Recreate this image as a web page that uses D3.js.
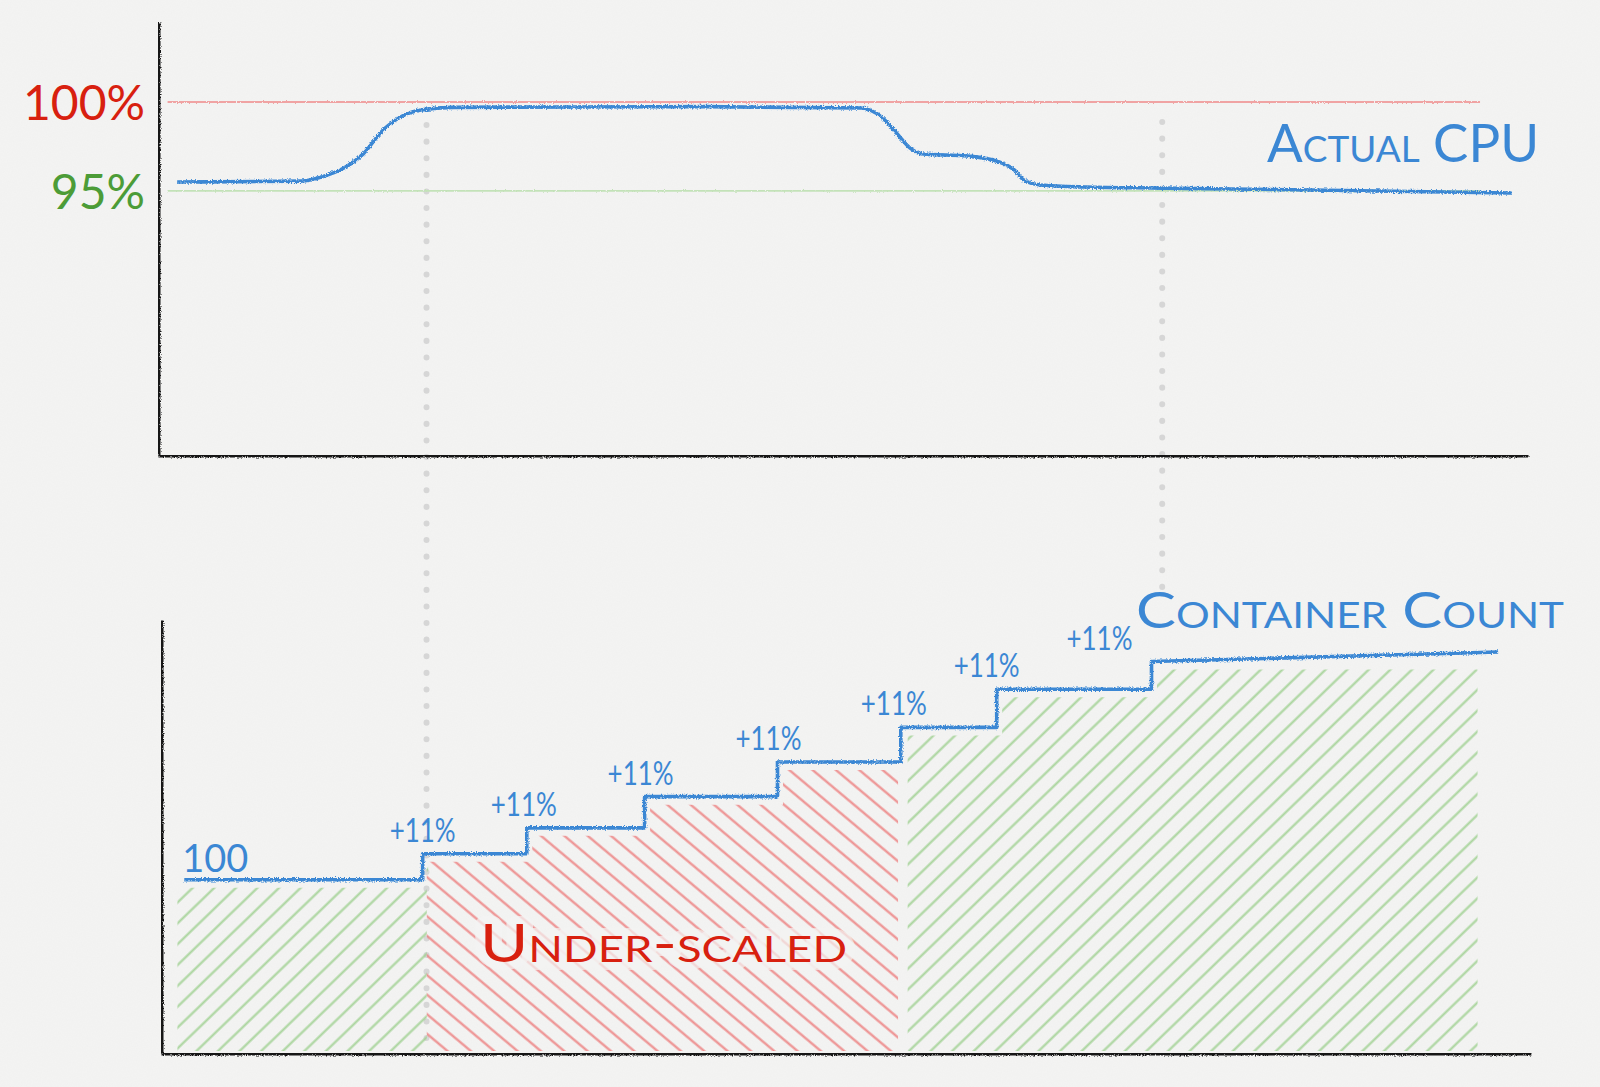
<!DOCTYPE html>
<html>
<head>
<meta charset="utf-8">
<script src="https://cdn.jsdelivr.net/npm/d3@7"></script>
<style>
  html, body { margin: 0; padding: 0; background: #f4f4f3; }
  svg { display: block; }
  text { font-family: Lato, "Open Sans", sans-serif; }
</style>
</head>
<body>
<svg id="chart" width="1600" height="1087"></svg>
<script>
// ---------------- DATA ----------------
// Top chart: actual CPU utilisation (%) over time (time in arbitrary units 0..100)
const cpuTime = [1.4, 10.5, 12.0, 13.6, 15.0, 16.4, 17.8, 19.2, 21.5, 30, 40, 51.3, 52.8, 53.9, 54.9, 55.8, 59.1, 61.4, 62.5, 63.2, 64.4, 67.7, 73.3, 84.1, 98.8];
const cpuPct  = [95.5, 95.55, 95.8, 96.3, 97.1, 98.4, 99.2, 99.55, 99.7, 99.72, 99.74, 99.66, 99.16, 98.26, 97.41, 97.08, 96.96, 96.63, 96.18, 95.61, 95.33, 95.22, 95.16, 95.05, 94.88];
const cpuTicks = [95, 100];
const thresholdRange = [0.7, 96.5];          // extent of the 100% / 95% guide lines

// Bottom chart: container count (step function)
const stepTimes  = [1.7, 19.1, 26.7, 35.3, 45.0, 54.0, 61.0, 72.3];
const stepCounts = [100, 115, 130, 148, 168, 188, 210, 226];
const stepEnd    = { time: 97.6, count: 231.5 };
const stepLabels = ["+11%", "+11%", "+11%", "+11%", "+11%", "+11%", "+11%"];
const startLabel = "100";

// Shaded zones under the step line
const zoneFrom = [1.2, 19.4, 54.5];
const zoneTo   = [19.4, 53.8, 96.1];
const zoneKind = ["ok", "under", "ok"];

// Vertical dotted markers (time)
const markerTimes = [19.6, 73.3];

// Titles
const titleTop = "Actual CPU";
const titleBottom = "Container Count";
const underLabel = "Under-scaled";

// ---------------- LAYOUT ----------------
const svg = d3.select("#chart");
const W = 1600, H = 1087;
const blue = "#3b87d4", red = "#d8200f", green = "#4c9c37";

const xTop = d3.scaleLinear().domain([0, 100]).range([158, 1528]);
const yTop = d3.scaleLinear().domain([80.15, 104.5]).range([455, 22]);
const xBot = d3.scaleLinear().domain([0, 100]).range([161, 1531]);
const yBot = d3.scaleLinear().domain([0, 250]).range([1053, 620]);

// ---------------- DEFS ----------------
const defs = svg.append("defs");
function roughFilter(id, freq, scale, seed) {
  const f = defs.append("filter").attr("id", id)
    .attr("filterUnits", "userSpaceOnUse")
    .attr("x", 0).attr("y", 0).attr("width", W).attr("height", H);
  f.append("feTurbulence").attr("type", "fractalNoise").attr("baseFrequency", freq)
    .attr("numOctaves", 2).attr("seed", seed).attr("result", "noise");
  f.append("feDisplacementMap").attr("in", "SourceGraphic").attr("in2", "noise")
    .attr("scale", scale).attr("xChannelSelector", "R").attr("yChannelSelector", "G");
}
roughFilter("rough", 0.8, 4, 3);
roughFilter("roughThin", 0.9, 2.5, 5);
roughFilter("roughAxis", 0.9, 3.5, 7);

const paper = defs.append("filter").attr("id", "paper")
  .attr("filterUnits", "userSpaceOnUse").attr("x", 0).attr("y", 0).attr("width", W).attr("height", H);
paper.append("feTurbulence").attr("type", "fractalNoise").attr("baseFrequency", 0.8)
  .attr("numOctaves", 3).attr("seed", 11).attr("result", "n");
paper.append("feColorMatrix").attr("type", "matrix")
  .attr("values", "0 0 0 0 0.5  0 0 0 0 0.5  0 0 0 0 0.5  0 0 0 0.06 0");

function hatch(id, color, angle, opacity) {
  const p = defs.append("pattern").attr("id", id).attr("patternUnits", "userSpaceOnUse")
    .attr("width", 15).attr("height", 15)
    .attr("patternTransform", `rotate(${angle})`);
  p.append("line").attr("x1", 0).attr("y1", 7.5).attr("x2", 15).attr("y2", 7.5)
    .attr("stroke", color).attr("stroke-width", 2.2).attr("stroke-opacity", opacity);
}
hatch("hatchOk", "#9fd091", -44, 0.85);
hatch("hatchUnder", "#ec7d7d", 40, 0.85);

// ---------------- BACKGROUND ----------------
svg.append("rect").attr("width", W).attr("height", H).attr("fill", "#f4f4f3");
svg.append("rect").attr("width", W).attr("height", H).attr("filter", "url(#paper)");

// ---------------- DOTTED MARKERS ----------------
const markerTop = [125, 122], markerBottom = [1051, 602];
svg.append("g").selectAll("line").data(markerTimes).join("line")
  .attr("x1", d => xTop(d)).attr("x2", d => xTop(d))
  .attr("y1", (d, i) => markerTop[i]).attr("y2", (d, i) => markerBottom[i])
  .attr("stroke", "#d6d6d6").attr("stroke-width", 6)
  .attr("stroke-linecap", "round").attr("stroke-dasharray", "0.1 16.5");

// ---------------- TOP CHART ----------------
// threshold guide lines
svg.append("g").selectAll("line").data(cpuTicks).join("line")
  .attr("x1", xTop(thresholdRange[0])).attr("x2", xTop(thresholdRange[1]))
  .attr("y1", d => yTop(d)).attr("y2", d => yTop(d))
  .attr("stroke", d => d === 100 ? "#f0a3a3" : "#c3e2b8")
  .attr("stroke-width", 1.8).attr("filter", "url(#roughThin)");

// axes
const axisStroke = g => g.select(".domain").attr("stroke", "#141414").attr("stroke-width", 4)
  .attr("filter", "url(#roughAxis)");
const gTopY = svg.append("g").attr("transform", `translate(${xTop.range()[0]},0)`)
  .call(d3.axisLeft(yTop).tickValues(cpuTicks).tickSize(0).tickSizeOuter(0).tickPadding(13)
    .tickFormat(d => d + "%"));
gTopY.selectAll(".tick text")
  .attr("font-size", 48).attr("font-family", "Lato, sans-serif").attr("font-weight", 400)
  .attr("fill", d => d === 100 ? red : green)
  .attr("dy", "0.36em");
gTopY.call(axisStroke);

const gTopX = svg.append("g").attr("transform", `translate(0,${yTop.range()[0]})`)
  .call(d3.axisBottom(xTop).tickValues([]).tickSize(0).tickSizeOuter(0));
gTopX.call(axisStroke);

// CPU line
const cpuData = cpuTime.map((t, i) => ({ t, v: cpuPct[i] }));
svg.append("path").datum(cpuData)
  .attr("d", d3.line().x(d => xTop(d.t)).y(d => yTop(d.v)).curve(d3.curveMonotoneX))
  .attr("fill", "none").attr("stroke", blue).attr("stroke-width", 3.6)
  .attr("filter", "url(#rough)");

svg.append("text").text(titleTop)
  .attr("x", 1539).attr("y", 162).attr("text-anchor", "end")
  .attr("font-size", 53).attr("font-variant", "small-caps").attr("fill", blue)
  .attr("textLength", 272).attr("lengthAdjust", "spacingAndGlyphs");

// ---------------- BOTTOM CHART ----------------
function countAt(t) {
  let i = d3.bisectRight(stepTimes, t) - 1;
  if (i < 0) i = 0;
  if (i === stepTimes.length - 1) {
    const f = (t - stepTimes[i]) / (stepEnd.time - stepTimes[i]);
    return stepCounts[i] + f * (stepEnd.count - stepCounts[i]);
  }
  return stepCounts[i];
}

// hatched zones
const hatchOffset = 8;
zoneFrom.forEach((from, zi) => {
  const to = zoneTo[zi];
  const pts = [{ t: from, v: countAt(from) }];
  stepTimes.forEach((st, i) => { if (st > from && st < to) pts.push({ t: st + 0.4, v: stepCounts[i] }); });
  pts.push({ t: to, v: countAt(to) });
  const area = d3.area().x(d => xBot(d.t)).y0(yBot(0) - 2)
    .y1(d => yBot(d.v) + hatchOffset).curve(d3.curveStepAfter);
  svg.append("path").datum(pts).attr("d", area)
    .attr("fill", zoneKind[zi] === "ok" ? "url(#hatchOk)" : "url(#hatchUnder)");
});

// axes
const gBotY = svg.append("g").attr("transform", `translate(${xBot.range()[0]},0)`)
  .call(d3.axisLeft(yBot).tickValues([]).tickSize(0).tickSizeOuter(0));
gBotY.call(axisStroke);
const gBotX = svg.append("g").attr("transform", `translate(0,${yBot.range()[0]})`)
  .call(d3.axisBottom(xBot).tickValues([]).tickSize(0).tickSizeOuter(0));
gBotX.call(axisStroke);

// step line
const stepPts = [];
stepTimes.forEach((t, i) => {
  stepPts.push({ t, v: stepCounts[i] });
  if (i < stepTimes.length - 1) stepPts.push({ t: stepTimes[i + 1], v: stepCounts[i] });
});
stepPts.push({ t: stepEnd.time, v: stepEnd.count });
svg.append("path").datum(stepPts)
  .attr("d", d3.line().x(d => xBot(d.t)).y(d => yBot(d.v)))
  .attr("fill", "none").attr("stroke", blue).attr("stroke-width", 3.6)
  .attr("stroke-linejoin", "round").attr("filter", "url(#rough)");

// step labels
const labelShift = [0, -3, -4, -9, -7, -10, -52];
svg.append("g").selectAll("text").data(stepLabels).join("text")
  .text(d => d)
  .attr("x", (d, i) => xBot(stepTimes[i + 1]) + labelShift[i])
  .attr("y", (d, i) => yBot(stepCounts[i + 1]) - 12)
  .attr("text-anchor", "middle").attr("font-size", 32).attr("fill", blue)
  .attr("textLength", 66).attr("lengthAdjust", "spacingAndGlyphs");

svg.append("text").text(startLabel)
  .attr("x", xBot(stepTimes[0]) - 2).attr("y", yBot(stepCounts[0]) - 8)
  .attr("font-size", 38).attr("fill", blue)
  .attr("textLength", 66).attr("lengthAdjust", "spacingAndGlyphs");

svg.append("text").text(titleBottom)
  .attr("x", 1564).attr("y", 628).attr("text-anchor", "end")
  .attr("font-size", 51).attr("font-variant", "small-caps").attr("fill", blue)
  .attr("textLength", 428).attr("lengthAdjust", "spacingAndGlyphs");

svg.append("text").text(underLabel)
  .attr("x", 480).attr("y", 962)
  .attr("font-size", 52).attr("font-variant", "small-caps").attr("fill", red)
  .attr("stroke", "#f4f4f3").attr("stroke-width", 16).attr("stroke-opacity", 0.7)
  .attr("stroke-linejoin", "round").attr("paint-order", "stroke")
  .attr("textLength", 367).attr("lengthAdjust", "spacingAndGlyphs");
</script>
</body>
</html>
